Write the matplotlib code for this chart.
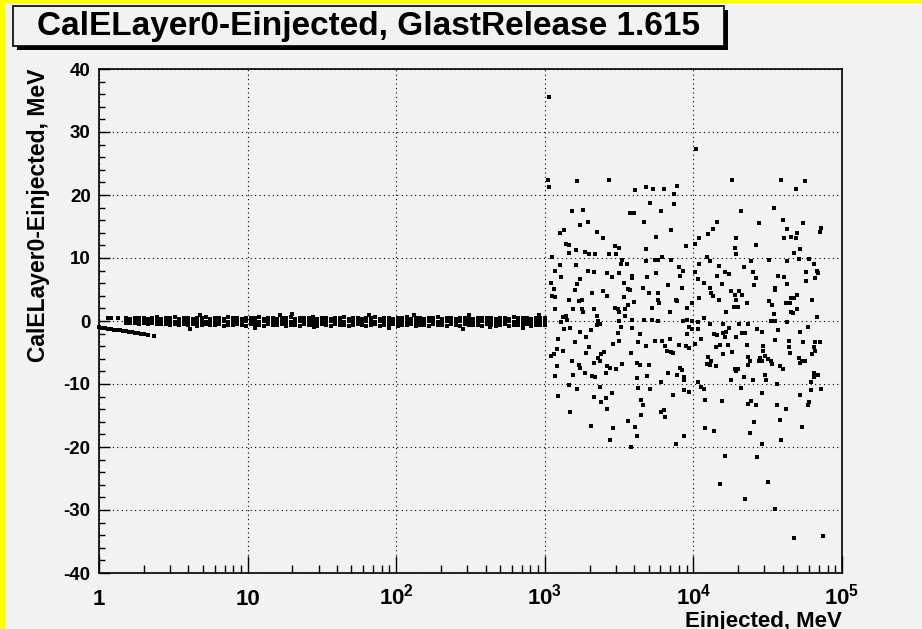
import matplotlib
matplotlib.use("Agg")
import matplotlib.pyplot as plt
import matplotlib.transforms as mtransforms
import numpy as np
from matplotlib.patches import Rectangle
from matplotlib.ticker import FixedLocator, LogLocator, MultipleLocator, NullFormatter

plt.rcParams["font.family"] = ["Liberation Sans", "DejaVu Sans"]
plt.rcParams["font.weight"] = "bold"
plt.rcParams["mathtext.fontset"] = "custom"
plt.rcParams["mathtext.rm"] = "Liberation Sans:bold"
plt.rcParams["mathtext.default"] = "rm"
plt.rcParams["axes.unicode_minus"] = False

# ---- data (x as log10 of Einjected/MeV) ----
# dense band between ~1.5 MeV and 1 GeV: three rows of points
band_log_e = [
    0.18, 0.21, 0.24, 0.27, 0.30, 0.33, 0.36, 0.39, 0.42, 0.45,
    0.48, 0.51, 0.54, 0.57, 0.60, 0.63, 0.66, 0.69, 0.72, 0.75,
    0.78, 0.81, 0.84, 0.87, 0.90, 0.93, 0.96, 0.99, 1.02, 1.05,
    1.08, 1.11, 1.14, 1.17, 1.20, 1.23, 1.26, 1.29, 1.32, 1.35,
    1.38, 1.41, 1.44, 1.47, 1.50, 1.53, 1.56, 1.59, 1.62, 1.65,
    1.68, 1.71, 1.74, 1.77, 1.80, 1.83, 1.86, 1.89, 1.92, 1.95,
    1.98, 2.01, 2.04, 2.07, 2.10, 2.13, 2.16, 2.19, 2.22, 2.25,
    2.28, 2.31, 2.34, 2.37, 2.40, 2.43, 2.46, 2.49, 2.52, 2.55,
    2.58, 2.61, 2.64, 2.67, 2.70, 2.73, 2.76, 2.79, 2.82, 2.85,
    2.88, 2.91, 2.94, 2.97, 3.00,
]
band_hi = [
    0.45, 0.35, 0.50, 0.40, 0.55, 0.30, 0.45, 0.60, 0.35, 0.50,
    0.40, 0.65, 0.30, 0.50, 0.45, 0.35, 0.55, 0.40, 0.60, 0.30,
    0.50, 0.45, 0.35, 0.70, 0.40, 0.50, 0.30, 0.55, 0.45, 0.40,
    0.60, 0.35, 0.50, 0.45, 0.30, 0.55, 0.40, 0.65, 0.35, 0.50,
    0.45, 0.40, 0.60, 0.30, 0.50, 0.55, 0.35, 0.45, 0.40, 0.60,
    0.30, 0.50, 0.45, 0.35, 0.55, 0.40, 0.65, 0.30, 0.50, 0.45,
    0.35, 0.55, 0.40, 0.60, 0.30, 0.50, 0.45, 0.35, 0.55, 0.40,
    0.60, 0.35, 0.50, 0.45, 0.30, 0.55, 0.40, 0.65, 0.35, 0.50,
    0.45, 0.40, 0.55, 0.30, 0.50, 0.45, 0.35, 0.60, 0.40, 0.50,
    0.45, 0.35, 0.55, 0.40, 0.50,
]
band_mid = [
    0.10, 0.00, 0.15, -0.05, 0.05, 0.10, -0.10, 0.00, 0.05, -0.15,
    0.00, -0.10, 0.05, -0.20, 0.00, -0.05, -0.15, 0.05, -0.10, -0.20,
    0.00, -0.15, -0.05, -0.10, 0.05, -0.20, -0.10, 0.00, -0.15, -0.05,
    -0.10, 0.00, -0.20, -0.05, -0.15, 0.05, -0.10, -0.20, 0.00, -0.05,
    -0.15, -0.10, 0.00, -0.20, -0.05, -0.10, 0.05, -0.15, -0.05, -0.20,
    0.00, -0.10, -0.15, -0.05, 0.00, -0.20, -0.10, -0.05, -0.15, 0.00,
    -0.10, -0.20, -0.05, 0.00, -0.15, -0.10, -0.05, -0.20, 0.00, -0.10,
    -0.15, -0.05, 0.00, -0.20, -0.10, -0.05, -0.15, 0.00, -0.10, -0.20,
    -0.05, 0.00, -0.15, -0.10, -0.05, -0.20, 0.00, -0.10, -0.15, -0.05,
    0.00, -0.10, -0.20, -0.05, -0.10,
]
band_lo = [
    -0.30, -0.25, -0.35, -0.40, -0.30, -0.45, -0.35, -0.50, -0.40, -0.55,
    -0.60, -0.45, -0.70, -0.55, -0.65, -0.50, -0.75, -0.60, -0.55, -0.70,
    -0.65, -0.50, -0.80, -0.60, -0.70, -0.55, -0.65, -0.75, -0.50, -0.70,
    -0.60, -0.80, -0.55, -0.65, -0.70, -0.50, -0.75, -0.60, -0.65, -0.85,
    -0.55, -0.70, -0.60, -0.75, -0.50, -0.65, -0.80, -0.55, -0.70, -0.60,
    -0.75, -0.65, -0.50, -0.70, -0.85, -0.60, -0.55, -0.75, -0.65, -0.70,
    -0.50, -0.80, -0.60, -0.70, -0.55, -0.75, -0.65, -0.60, -0.80, -0.55,
    -0.70, -0.65, -0.75, -0.50, -0.60, -0.85, -0.55, -0.70, -0.65, -0.60,
    -0.75, -0.50, -0.70, -0.80, -0.60, -0.55, -0.75, -0.65, -0.70, -0.60,
    -0.55, -0.75, -0.65, -0.70, -0.60,
]
# stray points around the band
stray_log_e = [0.06, 0.08, 0.13, 0.61, 0.68, 1.05, 1.22, 1.30, 1.45, 1.82,
               1.95, 2.12, 2.45, 2.49, 2.63, 2.85, 2.96]
stray_diff = [0.4, 0.4, 0.45, -1.2, 1.0, -1.1, 1.0, 1.1, -1.0, 0.9,
              -1.1, 0.9, -1.2, 0.9, -1.0, -1.1, 0.9]

# low-energy branch sagging below zero
low_log_e = [0.00, 0.02, 0.04, 0.06, 0.08, 0.10, 0.12, 0.14, 0.16,
             0.18, 0.20, 0.22, 0.24, 0.26, 0.28, 0.30, 0.33, 0.37]
low_diff = [-1.0, -1.05, -1.1, -1.2, -1.3, -1.35, -1.45, -1.5, -1.6,
            -1.65, -1.75, -1.8, -1.9, -1.95, -2.0, -2.1, -2.2, -2.45]

# wide scatter above 1 GeV
scat_log_e = [
    # upper part
    3.03, 3.02, 3.03, 3.22, 3.43, 3.61, 3.68, 3.73, 3.80, 3.89,
    3.87, 3.71, 3.87, 3.78, 3.18, 3.26, 3.57, 3.60, 3.24, 3.29,
    3.67, 3.10, 3.13, 3.35, 3.39, 3.75, 3.85,
    4.02, 4.26, 4.59, 4.75, 4.69, 4.54, 4.32, 4.60, 4.44, 4.74,
    4.16, 4.13, 4.10, 4.04, 4.29, 4.63, 4.70, 4.61, 4.66, 4.69,
    4.86, 4.85,
    # 1-10 GeV
    3.14, 3.16, 3.21, 3.27, 3.30, 3.34, 3.43, 3.47, 3.50, 3.48, 3.68, 3.95, 3.16, 3.05,
    3.52, 3.51, 3.55, 3.68, 3.74, 3.76, 3.79, 3.85, 3.10, 3.21, 3.07, 3.29,
    3.33, 3.42, 3.50, 3.59, 3.59, 3.45, 3.11, 3.69, 3.75, 3.90, 3.93, 3.91,
    3.04, 3.24, 3.22, 3.53, 3.06, 3.20, 3.39, 3.56, 3.57, 3.66, 3.83, 3.92, 3.32, 3.42,
    3.70, 3.76, 3.05, 3.07, 3.53, 3.16, 3.23, 3.25, 3.60, 3.76, 3.77, 3.88, 3.89,
    3.56, 3.72, 3.96, 3.07, 3.19, 3.25, 3.26, 3.33, 3.47, 3.49, 3.50, 3.54, 3.84, 3.35,
    3.54, 3.12, 3.14, 3.15, 3.59, 3.67, 3.72, 3.76, 3.93, 3.96, 3.50, 3.11, 3.36, 3.37,
    3.51, 3.59, 3.17, 3.13, 3.35, 3.97,
    3.24, 3.31, 3.49, 3.64, 3.96, 3.28, 3.09, 3.84, 3.20, 3.50, 3.46, 3.63, 3.74, 3.79,
    3.68, 3.90, 3.95, 3.30, 3.81, 3.82, 3.08, 3.12, 3.85, 3.86, 3.28, 3.40, 3.38, 3.58,
    3.97, 3.04, 3.06,
    3.36, 3.37, 3.33, 3.18, 3.52, 3.62, 3.64, 3.70, 3.23, 3.24, 3.08, 3.42, 3.44, 3.48,
    3.91, 3.92, 3.27, 3.32, 3.34, 3.19, 3.07, 3.41, 3.69, 3.83, 3.89, 3.94, 3.94, 3.62,
    3.78,
    3.16, 3.22, 3.37, 3.63, 3.71, 3.94, 3.97, 3.45, 3.09, 3.33, 3.41, 3.38, 3.65, 3.86,
    3.66, 3.42, 3.17, 3.78, 3.80,
    3.81, 3.31, 3.46, 3.56, 3.61, 3.65, 3.62, 3.44, 3.58, 3.88, 3.94,
    # 10-100 GeV
    4.01, 4.42, 4.28, 4.29, 4.68, 4.72, 4.09, 4.11, 4.39, 4.51,
    4.63, 4.71, 4.78, 4.04, 4.17, 4.34, 4.81, 4.01, 4.21, 4.24,
    4.40, 4.76, 4.83, 4.84, 4.16, 4.57, 4.61, 4.42, 4.03, 4.07,
    4.76, 4.82, 4.19, 4.41, 4.63, 4.11, 4.55, 4.55, 4.25, 4.28,
    4.31, 4.33, 4.12, 4.13, 4.70, 4.68, 4.04, 4.17, 4.29, 4.66,
    4.51, 4.36, 4.53, 4.62, 4.65, 4.80, 3.99, 4.27, 4.30, 4.70,
    4.66, 4.67, 4.22, 4.54, 4.83, 4.07, 3.99, 4.03, 4.11, 4.20,
    4.31, 4.37, 4.52, 4.55, 4.63, 4.77, 3.99, 4.03, 4.24, 4.22,
    4.20, 4.43, 4.46, 4.57, 4.72, 4.14, 4.16, 4.21, 4.29, 4.33,
    4.35, 4.05, 4.55, 4.64, 4.74, 4.82, 4.85, 4.01, 4.18, 4.23,
    4.36, 4.47, 4.15, 4.47, 4.64, 4.81, 4.82, 4.26, 4.65, 4.80,
    4.20, 4.37, 4.45, 4.48, 4.46, 4.44, 4.50, 4.52, 4.53, 4.71,
    4.73, 4.75, 4.72, 4.10, 4.12, 4.09, 4.11, 4.15, 4.38, 4.37,
    4.58, 4.60, 4.28, 4.30, 4.29, 4.81, 4.84, 4.81, 4.48, 4.34,
    4.25, 4.40, 4.49, 4.56, 4.79, 4.03, 4.05, 4.07, 4.32, 4.86,
    4.79, 4.46, 4.72, 4.08, 4.19, 4.37, 4.39, 4.42, 4.56, 4.62,
    4.78, 4.77,
    4.08, 4.14, 4.41, 4.38, 4.58, 4.73, 4.59, 4.46, 4.21, 4.43,
    4.18, 4.50, 4.35, 4.55, 4.68, 4.87,
]
scat_diff = [
    # upper part
    35.6, 22.4, 21.2, 22.2, 22.4, 20.8, 21.2, 21.0, 21.0, 21.4,
    20.1, 18.8, 18.6, 17.4, 17.4, 17.6, 17.1, 17.1, 15.2, 15.7,
    15.7, 14.0, 14.4, 14.2, 13.1, 13.3, 14.4,
    27.3, 22.4, 22.4, 22.2, 21.0, 18.0, 17.4, 16.1, 15.5, 15.5,
    15.7, 14.6, 13.8, 13.1, 13.1, 14.6, 14.0, 13.1, 13.3, 13.1,
    14.8, 14.2,
    # 1-10 GeV
    12.3, 12.1, 11.2, 11.0, 10.6, 10.6, 10.6, 11.9, 11.6, 10.6, 11.4, 11.9, 10.8, 10.2,
    9.7, 9.1, 9.1, 9.5, 9.7, 9.7, 10.2, 9.7, 8.9, 8.9, 8.0, 8.0,
    7.8, 7.6, 7.6, 7.2, 6.8, 7.0, 7.0, 7.0, 7.6, 8.5, 8.0, 7.2,
    6.1, 6.6, 5.9, 6.1, 5.1, 4.9, 4.7, 5.1, 4.9, 5.3, 5.7, 5.3, 4.4, 4.0,
    4.4, 4.4, 4.0, 3.8, 3.8, 3.4, 3.2, 3.4, 3.0, 3.4, 2.8, 3.4, 3.2,
    2.5, 2.1, 2.1, 1.9, 1.9, 1.9, 1.5, 1.9, 2.1, 1.9, 1.5, 1.9, 1.5, 0.8,
    0.8, 0.6, 0.8, 0.2, 0.2, 0.2, 0.2, 0.0, 0.0, 0.2, 0.0, -0.2, 0.0, -0.4,
    -0.9, -1.1, -1.1, -1.3, -0.6, -0.9,
    -1.7, -1.5, -1.9, -2.1, -2.1, -2.5, -2.8, -2.8, -3.4, -3.2, -3.6, -3.4, -3.2, -3.2,
    -4.0, -3.8, -4.0, -4.2, -4.0, -4.7, -4.4, -4.7, -4.9, -5.1, -5.1, -4.9, -5.3, -5.1,
    -4.3, -5.5, -5.3,
    -5.9, -6.4, -6.6, -6.4, -6.8, -6.6, -7.0, -7.0, -7.0, -7.4, -7.2, -7.2, -7.4, -7.6,
    -7.4, -7.8, -8.3, -8.7, -8.9, -8.5, -8.7, -8.3, -8.7, -8.3, -8.5, -8.9, -9.3, -9.1,
    -9.7,
    -10.2, -10.8, -10.4, -10.6, -10.8, -11.0, -11.2, -11.4, -11.9, -12.1, -12.3, -12.9, -12.5, -11.7,
    -13.3, -14.0, -14.4, -14.4, -14.2,
    -15.3, -16.6, -17.0, -15.8, -16.8, -14.9, -18.3, -18.9, -20.0, -19.6, -18.3,
    # 10-100 GeV
    12.3, 12.1, 11.6, 10.6, 10.8, 11.4, 10.2, 9.5, 9.5, 9.7,
    9.5, 9.9, 9.9, 9.1, 8.7, 8.5, 9.1, 7.8, 7.8, 7.4,
    7.8, 7.8, 8.0, 7.6, 7.2, 7.2, 7.0, 6.8, 6.6, 6.1,
    6.3, 6.8, 5.9, 5.7, 5.9, 5.3, 5.3, 4.9, 4.7, 4.2,
    4.7, 4.2, 4.4, 4.0, 4.2, 3.6, 3.6, 3.4, 3.4, 3.6,
    3.2, 2.8, 2.5, 2.8, 2.8, 3.4, 2.8, 2.3, 2.3, 1.9,
    1.5, 1.3, 1.5, 1.1, 0.6, 0.4, 0.0, -0.2, -0.4, -0.4,
    -0.4, -0.4, 0.0, 0.0, -0.2, -0.9, -1.3, -1.3, -1.1, -1.7,
    -1.9, -1.3, -1.7, -1.5, -1.7, -2.1, -2.3, -2.5, -2.5, -1.9,
    -1.9, -2.8, -3.0, -3.2, -3.4, -3.4, -3.4, -3.6, -3.8, -3.8,
    -3.8, -4.0, -4.2, -4.7, -4.2, -4.2, -4.7, -4.9, -5.1, -5.3,
    -5.3, -5.7, -5.9, -5.5, -6.4, -6.4, -6.1, -6.4, -6.8, -5.9,
    -6.4, -6.4, -6.6, -5.7, -6.4, -6.8, -7.0, -7.2, -6.4, -7.0,
    -7.2, -7.6, -7.6, -7.6, -8.0, -8.3, -8.5, -8.9, -8.5, -8.9,
    -9.3, -9.3, -9.3, -10.0, -9.7, -9.7, -10.4, -10.8, -10.6, -10.8,
    -11.0, -11.4, -11.7, -12.5, -12.7, -13.1, -12.7, -13.3, -13.3, -14.0,
    -12.9, -13.3,
    -17.0, -17.4, -16.1, -17.8, -15.7, -16.8, -18.9, -19.5, -21.4, -21.6,
    -25.9, -25.5, -28.2, -29.9, -34.4, -34.2,
]

x_ticks = [1, 10, 100, 1e3, 1e4, 1e5]
x_tick_labels = ["1", "10", "$10^{2}$", "$10^{3}$", "$10^{4}$", "$10^{5}$"]
y_ticks = [-40, -30, -20, -10, 0, 10, 20, 30, 40]

title = "CalELayer0-Einjected, GlastRelease 1.615"
x_label = "Einjected, MeV"
y_label = "CalELayer0-Einjected, MeV"

# ---- figure ----
W, H = 922, 629
bg = "#f2f2f2"
fig = plt.figure(figsize=(W / 100, H / 100), dpi=100, facecolor=bg)


def fx(px):
    return px / W


def fy(py):
    return 1 - py / H


ax = fig.add_axes([fx(99), fy(573), fx(842 - 99), (573 - 69) / H])
ax.set_facecolor(bg)

mk = dict(linestyle="none", marker="s", ms=3.5, color="black", mec="black", mew=0)

bx = 10 ** np.array(band_log_e)
for row in (band_hi, band_mid, band_lo):
    ax.plot(bx, row, **mk)
ax.plot(10 ** np.array(stray_log_e), stray_diff, **mk)
ax.plot(10 ** np.array(low_log_e), low_diff, clip_on=False, **mk)
ax.plot(10 ** np.array(scat_log_e), scat_diff, **mk)

ax.set_xscale("log")
ax.set_xlim(1, 1e5)
ax.set_ylim(-40, 40)

ax.xaxis.set_major_locator(FixedLocator(x_ticks))
ax.xaxis.set_major_formatter(NullFormatter())
ax.xaxis.set_minor_locator(LogLocator(base=10, subs=np.arange(2, 10)))
ax.xaxis.set_minor_formatter(NullFormatter())
ax.set_yticks(y_ticks)
ax.yaxis.set_minor_locator(MultipleLocator(2))

ax.tick_params(axis="x", which="major", direction="in", length=12, width=1, top=False)
ax.tick_params(axis="x", which="minor", direction="in", length=5.5, width=1, top=False)
ax.tick_params(axis="y", which="major", direction="in", length=8, width=1,
               labelsize=13.5, pad=6, right=False)
ax.tick_params(axis="y", which="minor", direction="in", length=4.5, width=1, right=False)

# x tick labels share one baseline, as ROOT draws them
lab_tr = mtransforms.offset_copy(ax.get_xaxis_transform(), fig=fig, x=0, y=-32, units="dots")
for xv, lab in zip(x_ticks, x_tick_labels):
    ax.text(xv, 0, lab, transform=lab_tr, ha="center", va="baseline", fontsize=16,
            fontweight="bold", clip_on=False)

ax.grid(True, which="major", color="black", linestyle=(0, (1, 3)), linewidth=0.8)
for s in ax.spines.values():
    s.set_linewidth(1.2)

fig.text(fx(842), fy(627), x_label, ha="right", va="baseline",
         fontsize=16, fontweight="bold")
fig.text(fx(38), fy(69), y_label, ha="center", va="top", rotation=90,
         fontsize=16.5, fontweight="bold")

# title pave with shadow
bx0, by0, bx1, by1 = 13, 6, 724, 46
fig.patches.append(Rectangle((fx(bx0 + 4), fy(by1 + 4)), fx(bx1 - bx0), (by1 - by0) / H,
                             transform=fig.transFigure, facecolor="black",
                             edgecolor="none", zorder=1))
fig.patches.append(Rectangle((fx(bx0), fy(by1)), fx(bx1 - bx0), (by1 - by0) / H,
                             transform=fig.transFigure, facecolor=bg,
                             edgecolor="black", linewidth=1.2, zorder=2))
fig.text(fx((bx0 + bx1) / 2), fy((by0 + by1) / 2), title, ha="center", va="center",
         fontsize=24, fontweight="bold", zorder=3)

# yellow highlight edges
fig.patches.append(Rectangle((0, 0), fx(5), 1, transform=fig.transFigure,
                             facecolor="#ffff00", edgecolor="none", zorder=4))
fig.patches.append(Rectangle((0, fy(3)), 1, 3 / H, transform=fig.transFigure,
                             facecolor="#ffff00", edgecolor="none", zorder=4))

fig.savefig("out.png", dpi=100, facecolor=bg)
